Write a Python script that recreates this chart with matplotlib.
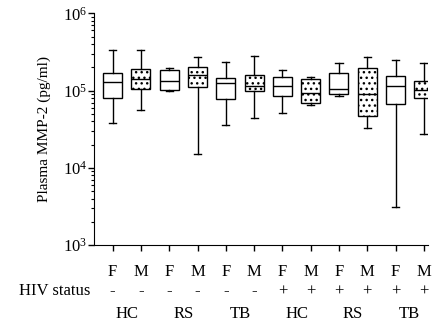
import numpy as np
import matplotlib
matplotlib.use('Agg')
import matplotlib.pyplot as plt

plt.rcParams['font.family'] = ['Liberation Serif', 'DejaVu Serif']
plt.rcParams['mathtext.fontset'] = 'custom'
plt.rcParams['mathtext.rm'] = 'Liberation Serif'
plt.rcParams['hatch.linewidth'] = 1.0

# groups, left to right
sex = ['F', 'M', 'F', 'M', 'F', 'M', 'F', 'M', 'F', 'M', 'F', 'M']
hiv = ['-', '-', '-', '-', '-', '-', '+', '+', '+', '+', '+', '+']
groups = ['HC', 'RS', 'TB', 'HC', 'RS', 'TB']

# box statistics (pg/ml)
whislo = [37600, 55900, 99000, 14900, 36000, 44000, 51700, 64900, 86000, 32700, 3100, 27600]
q1     = [79000, 106000, 103000, 110000, 76900, 98600, 84900, 69500, 89000, 46800, 66800, 79000]
med    = [130000, 141000, 134000, 159000, 124000, 114000, 113000, 94000, 105000, 91000, 116000, 101000]
q3     = [167000, 188000, 186000, 204000, 147000, 160000, 150000, 140000, 170000, 198000, 156000, 134000]
whishi = [335000, 335000, 198000, 269000, 236000, 280000, 184000, 152000, 230000, 269000, 249000, 230000]

stats = [dict(whislo=whislo[i], q1=q1[i], med=med[i], q3=q3[i], whishi=whishi[i], fliers=[])
         for i in range(len(sex))]
pos = np.arange(1, len(sex) + 1)

fig = plt.figure(figsize=(4.33, 3.34), dpi=100)
ax = fig.add_axes([0.217, 0.2665, 0.771, 0.6935])

bp = ax.bxp(stats, positions=pos, widths=0.67, capwidths=0.25, patch_artist=True,
            showfliers=False,
            boxprops=dict(lw=1.0, edgecolor='black', facecolor='white'),
            medianprops=dict(color='black', lw=1.0),
            whiskerprops=dict(color='black', lw=1.0),
            capprops=dict(color='black', lw=1.0))
for i, b in enumerate(bp['boxes']):
    if sex[i] == 'M':
        b.set_hatch('...')

ax.set_yscale('log')
ax.set_ylim(1e3, 1e6)
ax.set_xlim(0.34, 12.14)
ax.set_xticks(pos)
ax.set_xticklabels([])
ax.spines['top'].set_visible(False)
ax.spines['right'].set_visible(False)
ax.tick_params(axis='both', which='major', direction='out', length=4, width=1.0, labelsize=12, pad=1)
ax.tick_params(axis='y', which='minor', direction='out', length=2.5, width=0.8)
ax.set_ylabel('Plasma MMP-2 (pg/ml)', fontsize=11, labelpad=8)

fs = 12
tr = ax.get_xaxis_transform()
for i, p in enumerate(pos):
    ax.text(p, -0.115, sex[i], transform=tr, ha='center', va='center', fontsize=fs)
    ax.text(p, -0.20, hiv[i], transform=tr, ha='center', va='center', fontsize=fs)
for j, g in enumerate(groups):
    ax.text((pos[2 * j] + pos[2 * j + 1]) / 2, -0.297, g, transform=tr,
            ha='center', va='center', fontsize=fs)
ax.text(-0.012, -0.20, 'HIV status', transform=ax.transAxes, ha='right', va='center', fontsize=fs)

fig.savefig('out.png', dpi=100)
